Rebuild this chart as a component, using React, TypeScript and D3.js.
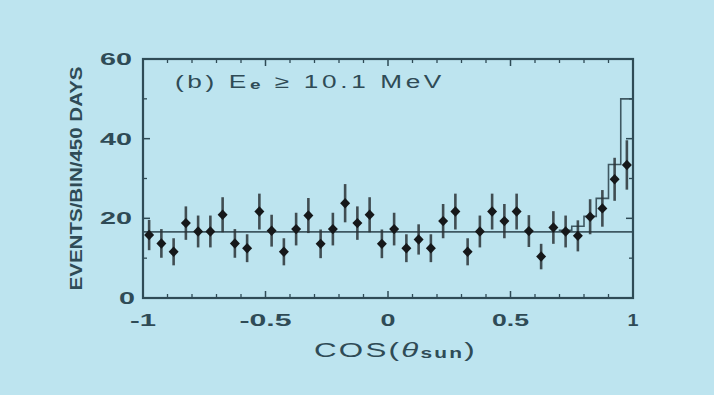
import React from 'react';
import * as d3 from 'd3';

// cos(theta_sun) bin centres, bin width 0.05
const cosCenters = [
  -0.975, -0.925, -0.875, -0.825, -0.775, -0.725, -0.675, -0.625, -0.575, -0.525,
  -0.475, -0.425, -0.375, -0.325, -0.275, -0.225, -0.175, -0.125, -0.075, -0.025,
  0.025, 0.075, 0.125, 0.175, 0.225, 0.275, 0.325, 0.375, 0.425, 0.475,
  0.525, 0.575, 0.625, 0.675, 0.725, 0.775, 0.825, 0.875, 0.925, 0.975,
];
const events = [
  15.8, 13.7, 11.6, 18.8, 16.7, 16.7, 20.9, 13.7, 12.5, 21.7,
  16.9, 11.6, 17.3, 20.7, 13.6, 17.3, 23.8, 18.8, 20.9, 13.6,
  17.3, 12.5, 14.7, 12.5, 19.3, 21.7, 11.6, 16.7, 21.7, 19.3,
  21.7, 16.8, 10.4, 17.7, 16.7, 15.6, 20.4, 22.5, 29.8, 33.4,
];
const errors = [
  3.8, 3.6, 3.4, 4.2, 4.0, 4.0, 4.4, 3.6, 3.5, 4.5,
  4.0, 3.4, 4.1, 4.4, 3.6, 4.1, 4.8, 4.2, 4.4, 3.6,
  4.1, 3.5, 3.8, 3.5, 4.3, 4.5, 3.4, 4.0, 4.5, 4.3,
  4.5, 4.0, 3.2, 4.1, 4.0, 3.9, 4.4, 4.6, 5.4, 6.2,
];

// expected (MC) histogram where it rises above the flat background
const mcEdges = [0.7, 0.75, 0.8, 0.85, 0.9, 0.95, 1.0];
const mcValues = [17, 18, 20.5, 25, 33.5, 50];
const background = 16.6;

const xTicks = [-1, -0.5, 0, 0.5, 1];
const xTickLabels = ['-1', '-0.5', '0', '0.5', '1'];
const xMinor = [-0.9, -0.8, -0.7, -0.6, -0.4, -0.3, -0.2, -0.1, 0.1, 0.2, 0.3, 0.4, 0.6, 0.7, 0.8, 0.9];
const yTicks = [0, 20, 40, 60];
const yMinor = [10, 30, 50];

const W = 714;
const H = 395;
const margin = { top: 59, right: 81, bottom: 97, left: 143 };

const ink = '#2f4b56';
const dot = '#16181a';
const bg = '#bde4ef';

export default function App() {
  const x = d3.scaleLinear().domain([-1, 1]).range([margin.left, W - margin.right]);
  const y = d3.scaleLinear().domain([0, 60]).range([H - margin.bottom, margin.top]);

  const x0 = x(-1), x1 = x(1), y0 = y(0), y1 = y(60);

  // step path for the MC histogram
  let mcPath = `M${x(mcEdges[0])},${y(background)}`;
  mcValues.forEach((v, i) => {
    mcPath += `L${x(mcEdges[i])},${y(v)}L${x(mcEdges[i + 1])},${y(v)}`;
  });
  mcPath += `L${x(1)},${y(background)}`;

  const font = '"Liberation Sans", Arial, sans-serif';
  // labels in the scan are set in a wide face, so stretch them a little
  const labelWidth = (s: string) => s.length * 15 - (s.includes('.') ? 8 : 0) - (s.includes('1') ? 4 : 0);

  return (
    <svg
      width={W}
      height={H}
      style={{ position: 'absolute', left: 0, top: 0, display: 'block', background: bg }}
    >
      <rect x={0} y={0} width={W} height={H} fill={bg} />

      {/* background line */}
      <line x1={x0} x2={x1} y1={y(background)} y2={y(background)} stroke="#3f5862" strokeWidth={1.6} />

      {/* MC histogram */}
      <path d={mcPath} fill="none" stroke="#3f5862" strokeWidth={1.6} />

      {/* error bars and points */}
      {cosCenters.map((c, i) => (
        <g key={i}>
          <line
            x1={x(c)}
            x2={x(c)}
            y1={y(events[i] - errors[i])}
            y2={y(events[i] + errors[i])}
            stroke="#2a3236"
            strokeWidth={2.6}
            strokeOpacity={0.85}
          />
          <path
            d={`M${x(c)},${y(events[i]) - 5.2}L${x(c) + 5},${y(events[i])}L${x(c)},${y(events[i]) + 5.2}L${x(c) - 5},${y(events[i])}Z`}
            fill={dot}
          />
        </g>
      ))}

      {/* frame */}
      <rect x={x0} y={y1} width={x1 - x0} height={y0 - y1} fill="none" stroke={ink} strokeWidth={2.2} />

      {/* ticks */}
      {xMinor.map(t => (
        <g key={`xm${t}`} stroke={ink} strokeWidth={1.3}>
          <line x1={x(t)} x2={x(t)} y1={y0} y2={y0 - 4} />
          <line x1={x(t)} x2={x(t)} y1={y1} y2={y1 + 4} />
        </g>
      ))}
      {xTicks.map(t => (
        <g key={`xt${t}`} stroke={ink} strokeWidth={1.5}>
          <line x1={x(t)} x2={x(t)} y1={y0} y2={y0 - 7} />
          <line x1={x(t)} x2={x(t)} y1={y1} y2={y1 + 7} />
        </g>
      ))}
      {yMinor.map(t => (
        <g key={`ym${t}`} stroke={ink} strokeWidth={1.3}>
          <line x1={x0} x2={x0 + 4} y1={y(t)} y2={y(t)} />
          <line x1={x1} x2={x1 - 4} y1={y(t)} y2={y(t)} />
        </g>
      ))}
      {yTicks.map(t => (
        <g key={`yt${t}`} stroke={ink} strokeWidth={1.5}>
          <line x1={x0} x2={x0 + 7} y1={y(t)} y2={y(t)} />
          <line x1={x1} x2={x1 - 7} y1={y(t)} y2={y(t)} />
        </g>
      ))}

      {/* tick labels */}
      {yTicks.map(t => (
        <text
          key={`yl${t}`}
          x={t === 0 ? x0 - 8 : x0 - 11}
          y={y(t)}
          dy="0.36em"
          textAnchor="end"
          fontFamily={font}
          fontSize={17}
          fontWeight="bold"
          fill={ink}
          textLength={String(t).length * 16}
          lengthAdjust="spacingAndGlyphs"
        >
          {t}
        </text>
      ))}
      {xTickLabels.map((s, i) => (
        <text
          key={`xl${s}`}
          x={x(xTicks[i])}
          y={326}
          textAnchor="middle"
          fontFamily={font}
          fontSize={17}
          fontWeight="bold"
          fill={ink}
          textLength={labelWidth(s)}
          lengthAdjust="spacingAndGlyphs"
        >
          {s}
        </text>
      ))}

      {/* axis titles */}
      <text
        transform={`translate(82,${(y0 + y1) / 2}) rotate(-90)`}
        textAnchor="middle"
        fontFamily={'"Liberation Sans Narrow", "Liberation Sans", sans-serif'}
        fontSize={16}
        fontWeight="bold"
        fill={ink}
        textLength={224}
        lengthAdjust="spacingAndGlyphs"
      >
        EVENTS/BIN/450 DAYS
      </text>
      <text
        x={314}
        y={357}
        fontFamily={font}
        fontSize={21}
        fill={ink}
        letterSpacing={1.5}
        textLength={163}
        lengthAdjust="spacingAndGlyphs"
      >
        COS(
        <tspan fontStyle="italic">θ</tspan>
        <tspan fontSize={14} fontWeight="bold" dy={1}>sun</tspan>
        <tspan dy={-1}>)</tspan>
      </text>

      {/* annotation */}
      <text
        x={175}
        y={88}
        fontFamily={font}
        fontSize={18}
        fill={ink}
        letterSpacing={2.5}
        textLength={270}
        lengthAdjust="spacingAndGlyphs"
      >
        (b) E
        <tspan fontSize={13} fontWeight="bold" dy={1}>e</tspan>
        <tspan dy={-1}> ≥ 10.1 MeV</tspan>
      </text>
    </svg>
  );
}
